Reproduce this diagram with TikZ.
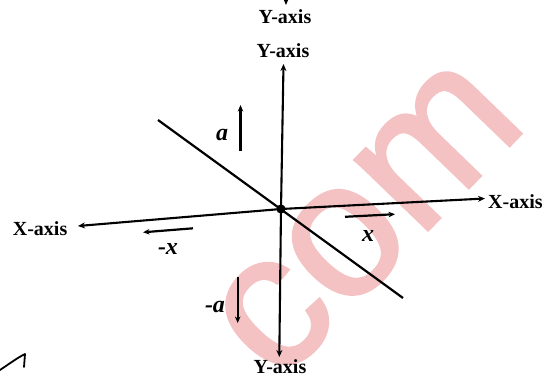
\documentclass[tikz,border=0pt]{standalone}
\usepackage{fontspec}
\setmainfont{Liberation Serif}
\newfontfamily\wmfont[FakeBold=1.5]{Liberation Sans}
\usetikzlibrary{arrows.meta}
\definecolor{wmpink}{RGB}{244,194,194}
\tikzset{
  axis/.style={line width=2.1pt,-{Stealth[length=7pt,width=6pt]}},
  vec/.style={line width=2.2pt,-{Stealth[length=6.5pt,width=5.5pt]}},
  axlabel/.style={font=\bfseries\fontsize{20}{20}\selectfont, inner sep=0pt},
  veclabel/.style={font=\bfseries\itshape\fontsize{24}{24}\selectfont, inner sep=0pt},
}
\begin{document}
\begin{tikzpicture}[x=1pt,y=-1pt]
\useasboundingbox (0,0) rectangle (557,381);
% watermark
\node[wmpink, font=\wmfont\fontsize{192}{192}\selectfont, rotate=46, anchor=base, inner sep=0pt] (wm) at (404,255) {com};
% origin and axis ends
\coordinate (o) at (281,209);
\coordinate (ytop) at (283.5,64);
\coordinate (ybot) at (279.3,357);
\coordinate (xr) at (485,198.5);
\coordinate (xl) at (78,226);
\coordinate (d1) at (158,120);
\coordinate (d2) at (403,298);
\draw[axis] (o) -- (ytop);
\draw[axis] (o) -- (ybot);
\draw[axis] (o) -- (xr);
\draw[axis] (o) -- (xl);
\draw[line width=2.2pt] (d1) -- (d2);
\fill (o) circle (4.6);
% top stray arrow
\coordinate (s1) at (286,-4);
\coordinate (s2) at (286,5);
\draw[vec] (s1) -- (s2);
% labels
\node[axlabel] (ylab1) at (285,17) {Y-axis};
\node[axlabel] (ylab2) at (283,51) {Y-axis};
\node[axlabel] (ylab3) at (280,367) {Y-axis};
\node[axlabel, anchor=west] (xlabr) at (488,202) {X-axis};
\node[axlabel, anchor=east] (xlabl) at (67.5,229) {X-axis};
% vectors
\coordinate (a1) at (240.5,151);
\coordinate (a2) at (240.5,105);
\draw[vec] (a1) -- (a2);
\node[veclabel] (la) at (222,135) {a};
\coordinate (na1) at (237.7,277);
\coordinate (na2) at (237.7,323);
\draw[vec] (na1) -- (na2);
\node[veclabel] (lna) at (215,307) {-a};
\coordinate (nx1) at (193,228.3);
\coordinate (nx2) at (143,232.3);
\draw[vec] (nx1) -- (nx2);
\node[veclabel] (lnx) at (168,249) {-x};
\coordinate (x1) at (345,216.8);
\coordinate (x2) at (395,214.2);
\draw[vec] (x1) -- (x2);
\node[veclabel] (lx) at (368,236) {x};
% stray stroke bottom-left
\coordinate (c1) at (0,370);
\coordinate (c2) at (25,354);
\coordinate (c3) at (24,367);
\draw[line width=1.8pt, line cap=round, line join=round] (c1) .. controls (9,364) and (17,358) .. (c2) -- (c3);
\end{tikzpicture}
\end{document}
